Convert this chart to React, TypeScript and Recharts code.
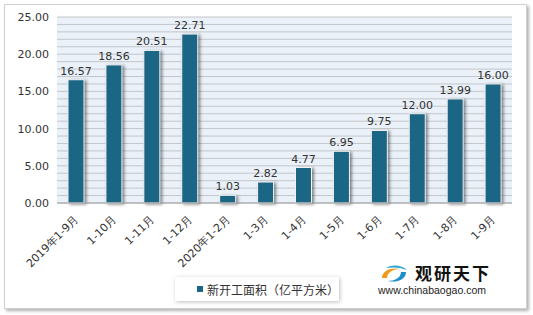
import { BarChart, Bar, XAxis, YAxis, CartesianGrid, LabelList } from "recharts"

const periods = [
  "2019年1-9月",
  "1-10月",
  "1-11月",
  "1-12月",
  "2020年1-2月",
  "1-3月",
  "1-4月",
  "1-5月",
  "1-6月",
  "1-7月",
  "1-8月",
  "1-9月",
]
const newStartArea = [16.57, 18.56, 20.51, 22.71, 1.03, 2.82, 4.77, 6.95, 9.75, 12.0, 13.99, 16.0]
const gridTicks = Array.from({ length: 26 }, (_, i) => i)
const seriesName = "新开工面积（亿平方米）"

const BAR_COLOR = "#1b6585"
const FONT = "'DejaVu Sans', sans-serif"

const data = periods.map((p, i) => ({ period: p, value: newStartArea[i] }))

function RotatedTick(props: any) {
  const { x, y, payload } = props
  const tx = x + 3
  const ty = y + 9
  return (
    <text
      x={tx}
      y={ty}
      transform={`rotate(-45, ${tx}, ${ty})`}
      textAnchor="end"
      fontSize={11}
      fontFamily={FONT}
      fill="#333"
    >
      {payload.value}
    </text>
  )
}

function ShadowBar(props: any) {
  const { x, y, width, height } = props
  return (
    <rect
      x={x}
      y={y}
      width={width}
      height={height}
      fill={BAR_COLOR}
      stroke="#f4f4f4"
      strokeWidth={1}
      style={{ filter: "drop-shadow(2px 1px 1.5px rgba(0,0,0,0.45))" }}
    />
  )
}

export default function App() {
  return (
    <div
      style={{
        position: "absolute",
        left: 0,
        top: 0,
        width: 533,
        height: 315,
        background: "#fff",
        fontFamily: FONT,
      }}
    >
      <div
        style={{
          position: "absolute",
          left: 4,
          top: 4,
          width: 521,
          height: 303,
          border: "1px solid #d0d0d0",
          boxShadow: "2px 2px 3px rgba(0,0,0,0.3)",
          background: "#fff",
        }}
      />
      <div style={{ position: "absolute", left: 0, top: 0 }}>
        <BarChart
          width={533}
          height={315}
          data={data}
          margin={{ top: 17, right: 21, left: 0, bottom: 42 }}
          barCategoryGap={0}
        >
          <CartesianGrid
            vertical={false}
            stroke="#c3c6ca"
            fill="#eaf1f9"
            fillOpacity={1}
          />
          <XAxis
            dataKey="period"
            interval={0}
            height={70}
            tick={<RotatedTick />}
            tickLine={false}
            axisLine={{ stroke: "#a0a0a0" }}
          />
          <YAxis
            width={57}
            domain={[0, 25]}
            ticks={gridTicks}
            interval={0}
            tickFormatter={(v: number) => (v % 5 === 0 ? v.toFixed(2) : "")}
            tick={{ fontSize: 11, fontFamily: FONT, fill: "#333" }}
            tickLine={false}
            axisLine={false}
          />
          <Bar
            dataKey="value"
            barSize={16}
            shape={<ShadowBar />}
            isAnimationActive={false}
          >
            <LabelList
              dataKey="value"
              position="top"
              offset={5}
              formatter={(v: any) => Number(v).toFixed(2)}
              style={{ fontSize: 11, fontFamily: FONT, fill: "#333" }}
            />
          </Bar>
        </BarChart>
      </div>
      <div
        style={{
          position: "absolute",
          left: 175,
          top: 277,
          width: 164,
          height: 24,
          background: "#fff",
          boxShadow: "1px 1px 4px rgba(0,0,0,0.25)",
          display: "flex",
          alignItems: "center",
          fontSize: 12,
          color: "#333",
          fontFamily: "'Noto Sans CJK SC', sans-serif",
        }}
      >
        <span
          style={{
            display: "inline-block",
            width: 6,
            height: 6,
            background: BAR_COLOR,
            marginLeft: 22,
            marginRight: 4,
          }}
        />
        {seriesName}
      </div>
      <div style={{ position: "absolute", left: 378, top: 262, width: 120 }}>
        <svg width={32} height={22} style={{ position: "absolute", left: 0, top: 2 }}>
          <path d="M4 14 C4 6 14 3 22 5 C16 5 9 8 9 14 Z" fill="#f39a1e" />
          <path d="M28 8 C28 16 18 19 10 17 C16 17 23 14 23 8 Z" fill="#1e8fc7" />
          <path d="M8 4 C14 0 24 1 29 6 C22 3 14 3 8 4 Z" fill="#2aa7d6" />
        </svg>
        <div
          style={{
            position: "absolute",
            left: 37,
            top: 0,
            fontSize: 17,
            fontWeight: 700,
            letterSpacing: 2,
            color: "#111",
            fontFamily: "'Noto Sans CJK SC', sans-serif",
            lineHeight: "22px",
          }}
        >
          观研天下
        </div>
        <div
          style={{
            position: "absolute",
            left: 0,
            top: 22,
            fontSize: 10.5,
            color: "#222",
            fontFamily: "'Liberation Sans', sans-serif",
            whiteSpace: "nowrap",
          }}
        >
          www.chinabaogao.com
        </div>
      </div>
    </div>
  )
}
